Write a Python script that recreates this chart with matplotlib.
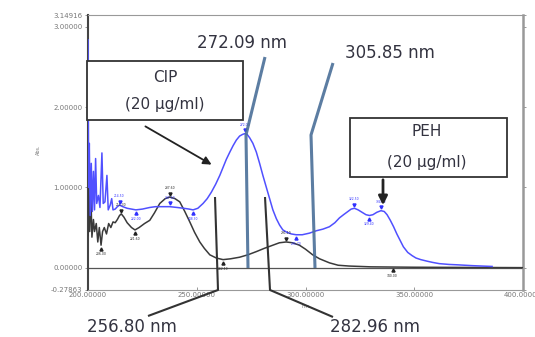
import numpy as np
import matplotlib
matplotlib.use("Agg")
import matplotlib.pyplot as plt
from matplotlib.lines import Line2D
from matplotlib.patches import Rectangle, FancyArrowPatch

# ---------------- data ----------------
cip_nm = [200.0, 200.3, 200.6, 201.0, 201.5, 202.0, 202.5, 203.0, 203.5, 204.0, 204.8,
          205.5, 206.4, 207.0, 207.8, 208.7, 209.3, 210.2, 210.9, 211.5, 212.5, 213.5,
          214.5, 216.0, 218.0, 220.0, 222.0, 225.0, 228.4, 231.0, 234.0, 237.6, 241.0,
          244.0, 246.5, 248.3, 250.5, 252.9, 254.8, 256.7, 258.7, 260.6, 262.1, 263.6,
          265.2, 266.7, 268.2, 269.7, 271.0, 272.0, 273.2, 274.3, 275.8, 277.4, 278.9,
          280.4, 282.0, 283.5, 285.0, 286.6, 288.1, 289.6, 291.5, 293.5, 295.7, 298.5,
          301.8, 305.0, 308.0, 311.0, 313.5, 315.6, 317.5, 319.5, 321.0, 322.5, 324.2,
          326.0, 327.8, 329.4, 331.0, 332.8, 334.7, 336.2, 337.5, 339.0, 340.5, 342.0,
          343.5, 345.0, 347.0, 349.0, 350.8, 353.0, 356.0, 358.5, 361.5, 366.0, 370.0,
          376.6, 381.0, 385.8]
cip_abs = [2.84, 1.00, 1.55, 0.65, 1.30, 0.70, 1.20, 0.72, 1.36, 0.80, 0.90,
           0.75, 1.43, 0.80, 0.82, 1.15, 0.72, 0.78, 0.86, 0.72, 0.73, 0.76,
           0.78, 0.76, 0.74, 0.73, 0.72, 0.73, 0.75, 0.76, 0.76, 0.76, 0.75,
           0.74, 0.73, 0.72, 0.74, 0.80, 0.86, 0.94, 1.04, 1.15, 1.25, 1.35,
           1.44, 1.52, 1.59, 1.64, 1.66, 1.67, 1.66, 1.62, 1.55, 1.44, 1.30,
           1.15, 1.00, 0.86, 0.72, 0.61, 0.53, 0.47, 0.44, 0.42, 0.41, 0.41,
           0.43, 0.46, 0.48, 0.51, 0.56, 0.62, 0.66, 0.70, 0.73, 0.74, 0.72,
           0.69, 0.66, 0.65, 0.66, 0.69, 0.71, 0.70, 0.66, 0.59, 0.51, 0.42,
           0.34, 0.26, 0.19, 0.15, 0.12, 0.10, 0.08, 0.065, 0.05, 0.04, 0.035,
           0.025, 0.02, 0.015]

peh_nm = [200.0, 200.4, 200.8, 201.3, 201.8, 202.5, 203.0, 203.8, 204.5, 205.2, 206.0,
          206.7, 207.5, 208.5, 209.5, 210.5, 211.5, 212.5, 213.5, 214.5, 215.3, 216.5,
          218.0, 220.0, 221.6, 223.5, 226.0, 228.4, 230.5, 233.0, 235.5, 237.6, 240.0,
          242.2, 244.5, 246.8, 249.0, 251.4, 253.5, 256.0, 259.0, 262.1, 265.5, 269.7,
          273.5, 277.4, 281.0, 285.0, 288.0, 291.1, 294.0, 297.2, 300.0, 303.3, 306.5,
          311.0, 315.0, 320.0, 330.0, 350.0, 400.0]
peh_abs = [0.40, 1.10, 0.45, 0.95, 0.38, 0.60, 0.45, 0.55, 0.32, 0.50, 0.28,
           0.45, 0.50, 0.42, 0.55, 0.50, 0.57, 0.56, 0.60, 0.65, 0.67, 0.63,
           0.56, 0.50, 0.47, 0.50, 0.55, 0.59, 0.68, 0.80, 0.86, 0.88, 0.86,
           0.82, 0.70, 0.57, 0.44, 0.32, 0.24, 0.16, 0.12, 0.10, 0.11, 0.13,
           0.16, 0.20, 0.24, 0.28, 0.31, 0.32, 0.31, 0.28, 0.23, 0.16, 0.11,
           0.06, 0.03, 0.02, 0.01, 0.005, 0.0]

cip_peaks = [214.5, 237.6, 272.0, 322.5, 334.7]
cip_valleys = [222.0, 248.3, 295.7, 329.4]
peh_peaks = [215.3, 237.6, 291.1]
peh_valleys = [206.0, 221.6, 262.1, 340.0]

x_ticks = [200, 250, 300, 350, 400]
x_ticklabels = ["200.00000", "250.00000", "300.00000", "350.00000", "400.00000"]
y_ticks = [-0.27863, 0.0, 1.0, 2.0, 3.0, 3.14916]
y_ticklabels = ["-0.27863", "0.00000", "1.00000", "2.00000", "3.00000", "3.14916"]

annot_top = ["272.09 nm", "305.85 nm"]
annot_bottom = ["256.80 nm", "282.96 nm"]
box_cip = ["CIP", "(20 µg/ml)"]
box_peh = ["PEH", "(20 µg/ml)"]

# ---------------- figure ----------------
W, H = 535, 337
fig = plt.figure(figsize=(W / 100, H / 100), dpi=100)
fig.patch.set_facecolor("white")

def fx(x):
    return x / W

def fy(y):
    return 1 - y / H

ax = fig.add_axes([fx(88), fy(290), fx(523) - fx(88), fy(15) - fy(290)])
ax.set_xlim(200, 400)
ax.set_ylim(-0.27863, 3.14916)

ax.axhline(0, color="#555555", lw=0.9, zorder=1)
ax.plot(peh_nm, peh_abs, color="#3a3a3a", lw=1.1, zorder=3)
ax.plot(cip_nm, cip_abs, color="#5050ff", lw=1.1, zorder=4)

# small peak / valley markers
def mark(nms, xs, ys, color, up):
    for n in nms:
        v = float(np.interp(n, xs, ys))
        off = 0.07 if up else -0.07
        ax.plot([n], [v + off * 0.6], marker="v" if up else "^", ms=2.2,
                color=color, zorder=5, lw=0)
        ax.text(n, v + off * 1.6, f"{n:.2f}", fontsize=2.2, color=color,
                ha="center", va="center", zorder=5)

mark(cip_peaks, cip_nm, cip_abs, "#3030ff", True)
mark(cip_valleys, cip_nm, cip_abs, "#3030ff", False)
mark(peh_peaks, peh_nm, peh_abs, "#222222", True)
mark(peh_valleys, peh_nm, peh_abs, "#222222", False)

ax.set_xticks(x_ticks)
ax.set_xticklabels(x_ticklabels)
ax.set_yticks(y_ticks)
ax.set_yticklabels(y_ticklabels)
ax.tick_params(axis="x", direction="in", length=2, width=0.6, colors="#888888",
               labelsize=5, labelcolor="#777777", pad=1.5)
ax.tick_params(axis="y", direction="out", length=2, width=0.6, colors="#888888",
               labelsize=5, labelcolor="#777777", pad=2, right=True)
for s in ["top", "bottom"]:
    ax.spines[s].set_color("#999999")
    ax.spines[s].set_linewidth(0.8)
ax.spines["left"].set_color("#444444")
ax.spines["left"].set_linewidth(1.5)
ax.spines["right"].set_color("#999999")
ax.spines["right"].set_linewidth(1.8)

fig.text(fx(38), fy(150), "Abs.", fontsize=3.5, color="#777777", rotation=90,
         ha="center", va="center")
fig.text(fx(306), fy(306), "nm.", fontsize=3.5, color="#777777", ha="center", va="center")

# ---------------- annotations ----------------
txt_color = "#333340"

def fline(pts, color, lw, alpha=1.0, z=10):
    xs = [fx(p[0]) for p in pts]
    ys = [fy(p[1]) for p in pts]
    fig.add_artist(Line2D(xs, ys, color=color, lw=lw, alpha=alpha, zorder=z,
                          solid_capstyle="butt"))

steel = "#4a6f98"
fline([(265, 57), (246, 135), (248, 268)], steel, 2.2, 0.9)
fline([(333, 63), (311, 135), (315, 268)], steel, 2.2, 0.9)
fline([(215, 197), (218, 290), (148, 316)], "#333333", 1.5)
fline([(265, 197), (270, 290), (333, 317)], "#333333", 1.5)

fig.text(fx(242), fy(43), annot_top[0], fontsize=12, color=txt_color, ha="center", va="center")
fig.text(fx(390), fy(53), annot_top[1], fontsize=12, color=txt_color, ha="center", va="center")
fig.text(fx(132), fy(327), annot_bottom[0], fontsize=12, color=txt_color, ha="center", va="center")
fig.text(fx(375), fy(327), annot_bottom[1], fontsize=12, color=txt_color, ha="center", va="center")

# boxes
def fbox(x0, y0, x1, y1):
    fig.add_artist(Rectangle((fx(x0), fy(y1)), fx(x1) - fx(x0), fy(y0) - fy(y1),
                             transform=fig.transFigure, facecolor="white",
                             edgecolor="#333333", lw=1.3, zorder=12))

fbox(87, 61, 243, 120)
fig.text(fx(165), fy(77), box_cip[0], fontsize=11, color=txt_color, ha="center", va="center", zorder=13)
fig.text(fx(165), fy(104), box_cip[1], fontsize=11, color=txt_color, ha="center", va="center", zorder=13)

fbox(350, 118, 507, 177)
fig.text(fx(427), fy(132), box_peh[0], fontsize=11, color=txt_color, ha="center", va="center", zorder=13)
fig.text(fx(427), fy(163), box_peh[1], fontsize=11, color=txt_color, ha="center", va="center", zorder=13)

# arrows
fig.add_artist(FancyArrowPatch((fx(143), fy(125)), (fx(214), fy(166)),
                               transform=fig.transFigure, arrowstyle="-|>",
                               mutation_scale=12, color="#222222", lw=1.3, zorder=11))
fig.add_artist(FancyArrowPatch((fx(383), fy(177)), (fx(383), fy(208)),
                               transform=fig.transFigure, arrowstyle="-|>",
                               mutation_scale=13, color="#222222", lw=2.0, zorder=11))

fig.savefig("out.png", dpi=100, facecolor="white")
